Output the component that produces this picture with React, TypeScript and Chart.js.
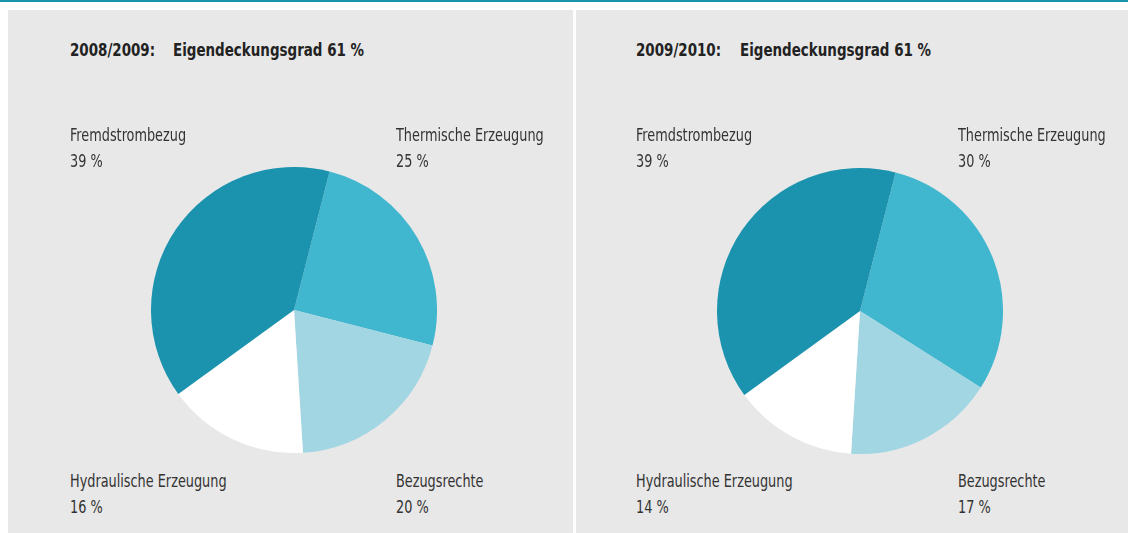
import React, { useEffect, useRef } from "react";
import { Chart, registerables } from "chart.js";

Chart.register(...registerables);

const categories = ["Thermische Erzeugung", "Bezugsrechte", "Hydraulische Erzeugung", "Fremdstrombezug"];
const values0809 = [25, 20, 16, 39];
const values0910 = [30, 17, 14, 39];
const sliceColors = ["#40b6cf", "#a3d6e3", "#ffffff", "#1b93ae"];
const periods = ["2008/2009:", "2009/2010:"];
const coverageLabel = "Eigendeckungsgrad 61 %";

const FONT = "'DejaVu Sans Condensed', 'Liberation Sans', sans-serif";

type PieProps = { values: number[]; left: number; top: number; size: number };

function Pie({ values, left, top, size }: PieProps) {
  const ref = useRef<HTMLCanvasElement | null>(null);
  useEffect(() => {
    if (!ref.current) return;
    const chart = new Chart(ref.current, {
      type: "pie",
      data: {
        labels: categories,
        datasets: [
          {
            data: values,
            backgroundColor: sliceColors,
            borderWidth: 0,
          },
        ],
      },
      options: {
        animation: false,
        responsive: false,
        maintainAspectRatio: false,
        devicePixelRatio: 1,
        rotation: 14.4,
        layout: { padding: 0 },
        plugins: { legend: { display: false }, tooltip: { enabled: false } },
      },
    });
    return () => chart.destroy();
  }, [values]);
  return (
    <canvas
      ref={ref}
      width={size}
      height={size}
      style={{ position: "absolute", left, top, width: size, height: size }}
    />
  );
}

function Label({ x, y, name, value }: { x: number; y: number; name: string; value: number }) {
  return (
    <div
      style={{
        position: "absolute",
        left: x,
        top: y,
        fontFamily: FONT,
        fontSize: 17,
        lineHeight: "26px",
        color: "#333",
        whiteSpace: "nowrap",
        transform: "scaleX(0.84)",
        transformOrigin: "0 0",
      }}
    >
      <div>{name}</div>
      <div>{value} %</div>
    </div>
  );
}

function Title({ x, text }: { x: number; text: string }) {
  return (
    <div
      style={{
        position: "absolute",
        left: x,
        top: 39,
        fontFamily: FONT,
        fontWeight: "bold",
        fontSize: 18,
        lineHeight: "22px",
        color: "#222",
        whiteSpace: "nowrap",
        transform: "scaleX(0.83)",
        transformOrigin: "0 0",
      }}
    >
      {text}
    </div>
  );
}

type PanelCfg = {
  values: number[];
  period: string;
  panelLeft: number;
  panelWidth: number;
  titleX: number;
  coverX: number;
  cx: number;
  cy: number;
  leftLabelX: number;
  rightLabelX: number;
};

function Panel(p: PanelCfg) {
  const r = 143;
  return (
    <>
      <div
        style={{
          position: "absolute",
          left: p.panelLeft,
          top: 10,
          width: p.panelWidth,
          height: 523,
          background: "#e8e8e8",
        }}
      />
      <Title x={p.titleX} text={p.period} />
      <Title x={p.coverX} text={coverageLabel} />
      <Pie values={p.values} left={p.cx - r} top={p.cy - r} size={2 * r} />
      <Label x={p.leftLabelX} y={122} name={categories[3]} value={p.values[3]} />
      <Label x={p.rightLabelX} y={122} name={categories[0]} value={p.values[0]} />
      <Label x={p.leftLabelX} y={468} name={categories[2]} value={p.values[2]} />
      <Label x={p.rightLabelX} y={468} name={categories[1]} value={p.values[1]} />
    </>
  );
}

export default function App() {
  return (
    <div style={{ position: "absolute", left: 0, top: 0, width: 1128, height: 533, background: "#ffffff", overflow: "hidden" }}>
      <div style={{ position: "absolute", left: 0, top: 0, width: 1128, height: 2, background: "#1a92ac" }} />
      <Panel
        values={values0809}
        period={periods[0]}
        panelLeft={8}
        panelWidth={565}
        titleX={70}
        coverX={173}
        cx={294}
        cy={310}
        leftLabelX={70}
        rightLabelX={396}
      />
      <Panel
        values={values0910}
        period={periods[1]}
        panelLeft={576}
        panelWidth={552}
        titleX={636}
        coverX={740}
        cx={860}
        cy={311}
        leftLabelX={636}
        rightLabelX={958}
      />
    </div>
  );
}
